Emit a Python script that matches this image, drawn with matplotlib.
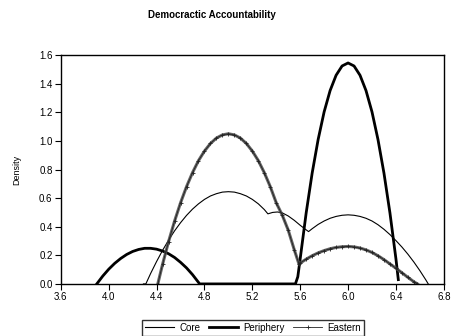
import matplotlib
matplotlib.use('Agg')
import matplotlib.pyplot as plt

plt.rcParams['font.family'] = ['Liberation Sans', 'DejaVu Sans']

# Core (thin line)
core_x = [4.29, 4.31, 4.35, 4.40, 4.45, 4.50, 4.55, 4.60, 4.65, 4.70, 4.75, 4.80, 4.85, 4.90, 4.95,
          5.00, 5.05, 5.10, 5.15, 5.20, 5.25, 5.30, 5.33, 5.37, 5.41, 5.45, 5.50, 5.55, 5.60, 5.65,
          5.67, 5.70, 5.75, 5.80, 5.85, 5.90, 5.95, 6.00, 6.05, 6.10, 6.15, 6.20, 6.25, 6.30, 6.35,
          6.40, 6.45, 6.50, 6.55, 6.60, 6.65, 6.67]
core_y = [0.0, 0.0, 0.073, 0.157, 0.235, 0.306, 0.371, 0.428, 0.479, 0.523, 0.560, 0.591, 0.615, 0.631, 0.642,
          0.645, 0.642, 0.631, 0.615, 0.591, 0.560, 0.520, 0.490, 0.500, 0.503, 0.497, 0.475, 0.445, 0.410, 0.378,
          0.366, 0.386, 0.416, 0.440, 0.459, 0.472, 0.480, 0.483, 0.480, 0.472, 0.459, 0.440, 0.414, 0.382, 0.345,
          0.303, 0.258, 0.208, 0.153, 0.093, 0.028, 0.0]

# Periphery (thick line)
per_x = [3.90, 3.95, 4.00, 4.05, 4.10, 4.15, 4.20, 4.25, 4.30, 4.35, 4.40, 4.45, 4.50, 4.55, 4.60,
         4.65, 4.70, 4.76, 5.56, 5.58, 5.60, 5.65, 5.70, 5.75, 5.80, 5.85, 5.90, 5.95, 6.00, 6.05,
         6.10, 6.15, 6.20, 6.25, 6.30, 6.35, 6.40, 6.42]
per_y = [0.0, 0.055, 0.103, 0.144, 0.178, 0.206, 0.227, 0.241, 0.249, 0.249, 0.243, 0.230, 0.211, 0.185, 0.151,
         0.112, 0.065, 0.0, 0.0, 0.05, 0.176, 0.497, 0.775, 1.010, 1.203, 1.352, 1.459, 1.524, 1.545, 1.524,
         1.459, 1.352, 1.203, 1.010, 0.775, 0.497, 0.176, 0.03]

# Eastern (line with markers)
east_x = [4.41, 4.45, 4.50, 4.55, 4.60, 4.65, 4.70, 4.75, 4.80, 4.85, 4.90, 4.95, 5.00, 5.05, 5.10,
          5.15, 5.20, 5.25, 5.30, 5.35, 5.40, 5.45, 5.50, 5.55, 5.59, 5.60, 5.65, 5.70, 5.75, 5.80,
          5.85, 5.90, 5.95, 6.00, 6.05, 6.10, 6.15, 6.20, 6.25, 6.30, 6.35, 6.40, 6.45, 6.50, 6.55, 6.58]
east_y = [0.0, 0.138, 0.296, 0.439, 0.567, 0.680, 0.778, 0.862, 0.929, 0.982, 1.020, 1.042, 1.050, 1.042, 1.020,
          0.982, 0.929, 0.862, 0.778, 0.680, 0.567, 0.481, 0.376, 0.240, 0.138, 0.146, 0.173, 0.197, 0.217, 0.233,
          0.246, 0.255, 0.260, 0.262, 0.259, 0.251, 0.238, 0.220, 0.197, 0.170, 0.140, 0.110, 0.078, 0.046, 0.015, 0.0]

xticks = [3.6, 4.0, 4.4, 4.8, 5.2, 5.6, 6.0, 6.4, 6.8]
yticks = [0.0, 0.2, 0.4, 0.6, 0.8, 1.0, 1.2, 1.4, 1.6]

fig = plt.figure(figsize=(4.51, 3.36), dpi=100)
ax = fig.add_axes([0.135, 0.155, 0.849, 0.681])

ax.plot(core_x, core_y, color='black', lw=0.8, label='Core')
ax.plot(per_x, per_y, color='black', lw=2.0, label='Periphery')
ax.plot(east_x, east_y, color='#4a4a4a', lw=2.2, alpha=0.85)
ax.plot(east_x, east_y, color='#222222', lw=0.6, marker='+', ms=2.5, mew=0.6, label='Eastern')

ax.set_xlim(3.6, 6.8)
ax.set_ylim(0.0, 1.6)
ax.set_xticks(xticks)
ax.set_xticklabels(['%.1f' % v for v in xticks])
ax.set_yticks(yticks)
ax.set_yticklabels(['%.1f' % v for v in yticks])
ax.tick_params(labelsize=7, length=4, width=0.8, direction='out', pad=2)
for s in ax.spines.values():
    s.set_linewidth(1.0)

ax.set_ylabel('Density', fontsize=6.5, labelpad=13)
fig.text(0.47, 0.955, 'Democractic Accountability', fontsize=7, ha='center', va='center',
         fontweight='bold')

leg = fig.legend(loc='center', bbox_to_anchor=(0.561, 0.025), ncol=3, fontsize=7,
                 frameon=True, fancybox=False, edgecolor='black', handlelength=3.0,
                 columnspacing=0.9, handletextpad=0.5, borderpad=0.3)
leg.get_frame().set_linewidth(1.0)

fig.savefig('out.png', dpi=100)
